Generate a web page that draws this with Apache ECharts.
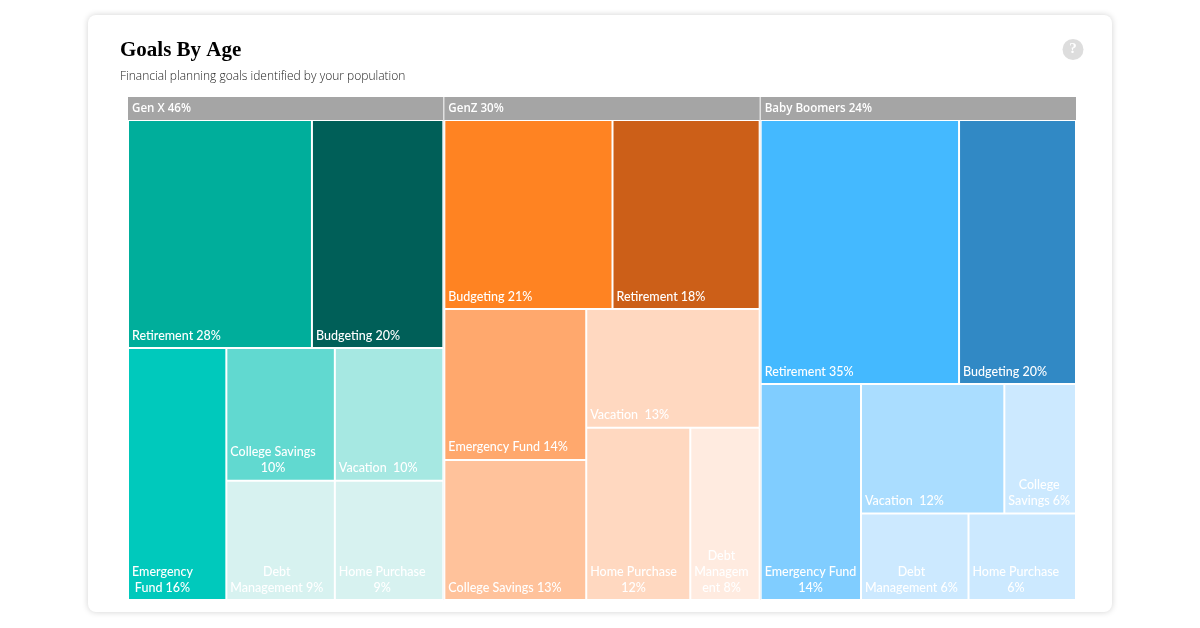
<!DOCTYPE html>
<html>
<head>
<meta charset="utf-8">
<title>Goals By Age</title>
<script src="https://cdn.jsdelivr.net/npm/echarts@6/dist/echarts.min.js"></script>
<style>
	body { margin: 0; background: #fff; }
	#card { position: absolute; left: 88px; top: 15px; width: 1024px; height: 597px; background: #fff; border-radius: 8px; box-shadow: 0 0 6px rgba(0,0,0,0.18); }
	#chart { position: absolute; left: 0; top: 0; width: 1200px; height: 628px; }
</style>
</head>
<body>
<div id="card"></div>
<div id="chart"></div>
<script>
var groupLabels = ["Gen X 46%", "GenZ 30%", "Baby Boomers 24%"];
// the three columns are drawn the same size in the picture, whatever their share
var groupWeights = [100, 100, 100];

var genXLabels = ["Retirement 28%", "Budgeting 20%", "Emergency\nFund 16%", "College Savings\n10%", "Vacation  10%", "Debt\nManagement 9%", "Home Purchase\n9%"];
var genXValues = [28, 20, 16, 10, 10, 9, 9];
var genXColors = ["#00AE9B", "#005F58", "#00C9BC", "#61D9D0", "#A6E8E2", "#D7F2F0", "#D7F2F0"];

var genZLabels = ["Budgeting 21%", "Retirement 18%", "Emergency Fund 14%", "College Savings 13%", "Vacation  13%", "Home Purchase\n12%", "Debt\nManagem\nent 8%"];
var genZValues = [20.8, 18.2, 14, 13, 13, 12, 8];
var genZColors = ["#FF8322", "#CC5F18", "#FFA86D", "#FFC29B", "#FFD8C0", "#FFD8C0", "#FFEBE0"];

var boomerLabels = ["Retirement 35%", "Budgeting 20%", "Emergency Fund\n14%", "Vacation  12%", "College\nSavings 6%", "Debt\nManagement 6%", "Home Purchase\n6%"];
var boomerValues = [34.6, 20.4, 14, 12, 6, 6, 6];
var boomerColors = ["#44B9FF", "#3189C5", "#80CDFF", "#AADDFF", "#CCE9FF", "#CCE9FF", "#CCE9FF"];

// how the leaves nest, squarify alone picks another split than the picture.
// weight = area read off the picture where the rounded labels don't add up to it
var genXTree = [[0, 1], { weight: 53, parts: [2, { weight: 35.3, parts: [[3, 4], [5, 6]] }] }];
var boomerTree = [[0, 1], { weight: 45, parts: [2, [[3, 4], [5, 6]]] }];
// home/debt has to come out a bit flatter than square or it gets stacked
var genZTree = [[0, 1], [[2, 3], { weight: 33, parts: [4, { weight: 18.9, parts: [5, 6] }] }]];

var labelFont = "500 12.5px Lato";

var measure = document.createElement("canvas").getContext("2d");
measure.font = labelFont;

function leaf(label, value, color) {
	// lines are centred on each other but the block stays on the left edge
	var width = Math.max.apply(null, label.split("\n").map(function(line) {
		return measure.measureText(line).width;
	}));
	return {
		name: label,
		value: value,
		itemStyle: { color: color, borderWidth: 1, borderColor: "#fff" },
		label: { align: "center", offset: [width / 2, 4.5] }
	};
}

function build(tree, labels, values, colors) {
	if (typeof tree === "number") {
		return leaf(labels[tree], values[tree], colors[tree]);
	}
	var parts = tree.parts || tree;
	return {
		name: "",
		value: tree.weight,
		itemStyle: { borderWidth: 0, gapWidth: 0 },
		children: parts.map(function(part) {
			return build(part, labels, values, colors);
		})
	};
}

function group(i, tree, labels, values, colors) {
	return { name: groupLabels[i], value: groupWeights[i], children: build(tree, labels, values, colors).children };
}

var chart = echarts.init(document.getElementById("chart"), null, { renderer: "canvas" });

chart.setOption({
	animation: false,
	title: {
		text: "Goals By Age",
		subtext: "Financial planning goals identified by your population",
		left: 120,
		top: 40,
		padding: 0,
		itemGap: 10,
		textStyle: { fontFamily: "'Liberation Serif'", fontWeight: "bold", fontSize: 21, color: "#000" },
		subtextStyle: { fontFamily: "'Open Sans'", fontWeight: 300, fontSize: 12, color: "#222" }
	},
	graphic: [
		{ type: "circle", shape: { cx: 1073, cy: 49.5, r: 10.5 }, style: { fill: "#DDDDDD" }, silent: true },
		{ type: "text", x: 1073, y: 49.5, silent: true, style: { text: "?", fill: "#fff", font: "bold 15px 'Liberation Serif'", align: "center", verticalAlign: "middle" } }
	],
	series: [{
		type: "treemap",
		left: 128,
		top: 97,
		right: 124,
		bottom: 28,
		roam: false,
		nodeClick: false,
		sort: false,
		squareRatio: 1,
		breadcrumb: { show: false },
		itemStyle: { gapWidth: 0, borderWidth: 0 },
		label: {
			show: true,
			position: "insideBottomLeft",
			distance: 3,
			overflow: "none",
			color: "#fff",
			fontFamily: "Lato",
			fontWeight: 500,
			fontSize: 12.5,
			lineHeight: 16
		},
		levels: [
			{ itemStyle: { gapWidth: 1, borderWidth: 0 } },
			{
				itemStyle: { color: "#A5A5A5", borderColor: "#A5A5A5", borderWidth: 0, gapWidth: 0 },
				upperLabel: {
					show: true,
					height: 23,
					color: "#fff",
					fontFamily: "'Open Sans'",
					fontWeight: 600,
					fontSize: 11.6,
					position: "insideLeft",
					distance: 4
				}
			}
		],
		data: [
			group(0, genXTree, genXLabels, genXValues, genXColors),
			group(1, genZTree, genZLabels, genZValues, genZColors),
			group(2, boomerTree, boomerLabels, boomerValues, boomerColors)
		]
	}]
});
</script>
</body>
</html>
